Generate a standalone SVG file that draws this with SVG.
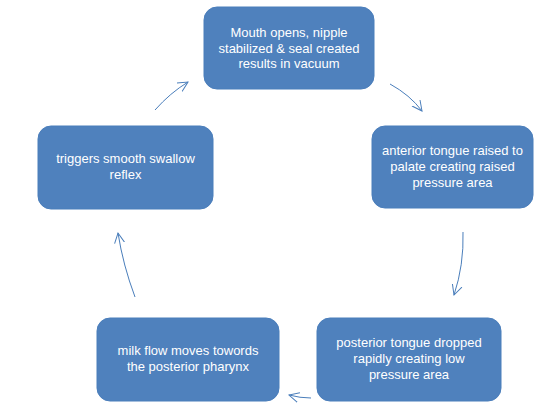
<svg xmlns="http://www.w3.org/2000/svg" width="550" height="415" viewBox="0 0 550 415">
<defs>
<marker id="arr" markerUnits="userSpaceOnUse" markerWidth="14" markerHeight="14" refX="10" refY="5" orient="auto" viewBox="0 0 14 10">
<path d="M0,0 L10,5 L0,10" fill="none" stroke="#4A7EBB" stroke-width="1"/>
</marker>
<style>
.box{fill:#4F81BD;stroke:#4A7EBB;stroke-width:1}
.t{font-family:"Liberation Sans",Arial,sans-serif;font-size:13px;fill:#FFFFFF;text-anchor:middle}
.c{fill:none;stroke:#4A7EBB;stroke-width:1;marker-end:url(#arr)}
</style>
</defs>
<rect width="550" height="415" fill="#FFFFFF"/>
<g id="connectors">
<path class="c" d="M390,84 Q410,95 422,111"/>
<path class="c" d="M463,232 Q464,265 454,295"/>
<path class="c" d="M311,398 Q300,398 289,395"/>
<path class="c" d="M135,297 Q123,265 118,233"/>
<path class="c" d="M155,110 Q170,93 188,82"/>
</g>
<g id="n1">
<rect class="box" x="204" y="7" width="170" height="82" rx="13"/>
<text class="t" x="289" y="37">Mouth opens, nipple</text>
<text class="t" x="289" y="53">stabilized &amp; seal created</text>
<text class="t" x="289" y="68">results in vacuum</text>
</g>
<g id="n2">
<rect class="box" x="372" y="126" width="161" height="82" rx="13"/>
<text class="t" x="452.5" y="155">anterior tongue raised to</text>
<text class="t" x="452.5" y="171">palate creating raised</text>
<text class="t" x="452.5" y="187">pressure area</text>
</g>
<g id="n3">
<rect class="box" x="317" y="318" width="184" height="83" rx="13"/>
<text class="t" x="409" y="347">posterior tongue dropped</text>
<text class="t" x="409" y="363">rapidly creating low</text>
<text class="t" x="409" y="379">pressure area</text>
</g>
<g id="n4">
<rect class="box" x="97" y="318" width="182" height="83" rx="13"/>
<text class="t" x="188" y="355">milk flow moves towords</text>
<text class="t" x="188" y="371">the posterior pharynx</text>
</g>
<g id="n5">
<rect class="box" x="38" y="126" width="175" height="83" rx="13"/>
<text class="t" x="125.5" y="163">triggers smooth swallow</text>
<text class="t" x="125.5" y="179">reflex</text>
</g>
</svg>
